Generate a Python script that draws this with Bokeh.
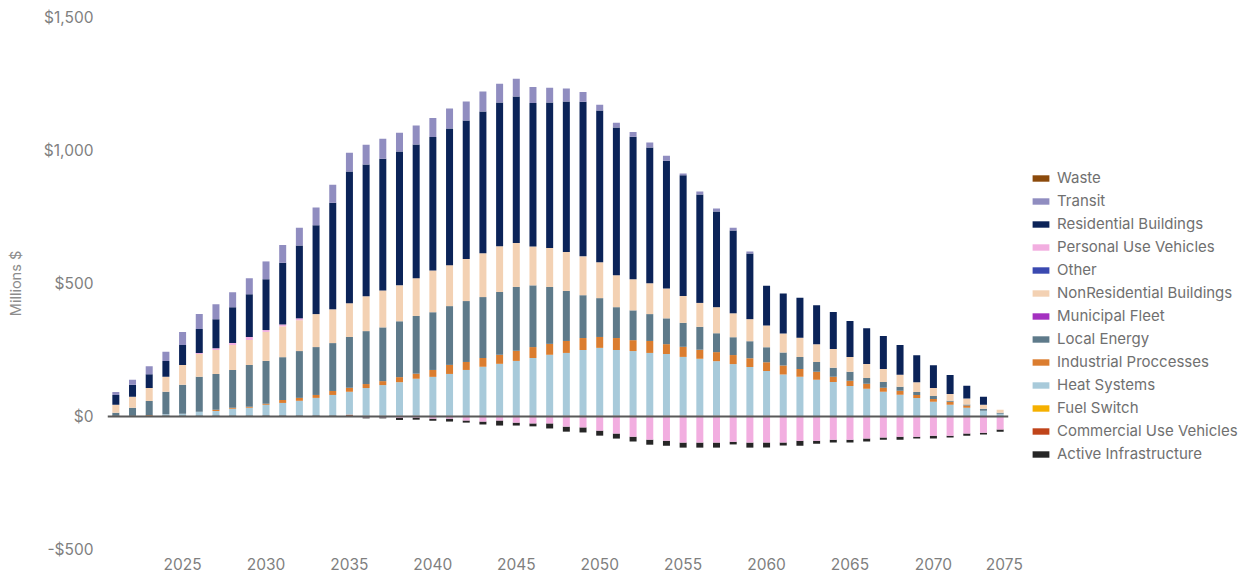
import numpy as np
from bokeh.plotting import figure
from bokeh.layouts import row
from bokeh.models import (ColumnDataSource, Range1d, Span, Legend, LegendItem,
                          FixedTicker, CustomJSTickFormatter)
from bokeh.embed import file_html
from bokeh.resources import INLINE

years = list(range(2021, 2075))

active = [4, 4, 4, 4, 4, 4, 4, 4, 4, 4, 4, 4, 4, 4, 4,
          -4, -4, -8, -8, -8, -11, -8, -11, -19, -11, -11, -19, -19, -19, -19,
          -19, -18, -19, -19, -19, -19, -19, -10, -19, -19, -11, -19, -11, -11, -11,
          -11, -8, -11, -7, -11, -7, -8, -7, -8]
commercial = [0] * 14 + [3] * 26 + [0] * 14
fuel_switch = [0] * 54
heat = [0, 0, 0, 4, 6, 14, 17, 25, 29, 40, 47, 55, 66, 77, 86,
        104, 115, 126, 139, 146, 157, 172, 184, 195, 206, 217, 229, 236, 247, 255,
        247, 243, 236, 232, 221, 214, 205, 194, 183, 168, 158, 149, 138, 130, 115,
        104, 93, 82, 70, 55, 44, 33, 22, 10]
industrial = [0, 0, 2, 0, 0, 0, 4, 4, 4, 4, 11, 11, 11, 15, 15,
              15, 15, 19, 19, 26, 34, 30, 33, 34, 38, 41, 41, 45, 45, 41,
              45, 41, 45, 37, 38, 34, 34, 34, 33, 33, 34, 30, 30, 19, 19,
              19, 15, 15, 11, 11, 11, 8, 0, 0]
local_energy = [10, 29, 52, 85, 109, 131, 135, 142, 157, 161, 161, 176, 180, 180, 191,
                199, 202, 210, 217, 217, 221, 229, 229, 236, 240, 232, 214, 188, 161, 146,
                116, 112, 101, 97, 90, 86, 71, 67, 64, 56, 49, 45, 37, 34, 34,
                22, 22, 15, 11, 11, 4, 4, 7, 4]
municipal = [0] * 54
nonres = [30, 41, 49, 56, 75, 86, 90, 94, 94, 109, 116, 116, 124, 127, 127,
          131, 139, 135, 142, 157, 154, 158, 165, 172, 165, 146, 146, 146, 146, 135,
          120, 117, 116, 112, 101, 90, 98, 90, 83, 82, 71, 72, 67, 71, 56,
          52, 49, 45, 37, 30, 26, 23, 15, 11]
other = [0] * 54
personal = [0, 0, 0, 0, 0, 4, 7, 7, 11, 7, 7, 7, 0, 0, 0,
            -3, -3, -5, -4, -8, -8, -15, -19, -15, -23, -26, -26, -38, -41, -53,
            -64, -76, -87, -91, -98, -98, -98, -95, -98, -98, -98, -91, -91, -87, -87,
            -83, -79, -76, -76, -72, -72, -64, -61, -49]
residential = [37, 45, 52, 60, 75, 90, 109, 135, 161, 191, 232, 274, 334, 401, 495,
               495, 495, 503, 503, 502, 514, 521, 533, 540, 551, 540, 547, 566, 581, 570,
               555, 536, 510, 480, 454, 408, 360, 311, 247, 150, 150, 150, 146, 139, 135,
               135, 124, 112, 101, 86, 71, 48, 30, 0]
transit = [11, 19, 30, 34, 49, 56, 56, 56, 60, 67, 67, 67, 67, 67, 71,
           75, 75, 71, 71, 71, 75, 71, 75, 71, 67, 60, 56, 49, 37, 22,
           18, 18, 19, 19, 7, 11, 11, 11, 7, 0, 0, 0, 0, 0, 0,
           0, 0, 0, 0, 0, 0, 0, 0, 0]
waste = [0] * 54

y_ticks = [-500, 0, 500, 1000, 1500]
x_ticks = [2025, 2030, 2035, 2040, 2045, 2050, 2055, 2060, 2065, 2070, 2074.25]

# series in stacking order (bottom to top for positive values)
series = [
    ("Active Infrastructure", active, "#262626"),
    ("Commercial Use Vehicles", commercial, "#C0441A"),
    ("Fuel Switch", fuel_switch, "#F5B000"),
    ("Heat Systems", heat, "#A8CADA"),
    ("Industrial Proccesses", industrial, "#DB7D2F"),
    ("Local Energy", local_energy, "#5E7A8A"),
    ("Municipal Fleet", municipal, "#A431C0"),
    ("NonResidential Buildings", nonres, "#F3D1B3"),
    ("Other", other, "#3A49B0"),
    ("Personal Use Vehicles", personal, "#F2AEE0"),
    ("Residential Buildings", residential, "#0B2358"),
    ("Transit", transit, "#908DC0"),
    ("Waste", waste, "#8B4A0B"),
]
# negative values stack downward, Personal Use Vehicles closest to zero
neg_order = ["Personal Use Vehicles", "Municipal Fleet", "Other", "Commercial Use Vehicles",
             "Fuel Switch", "Heat Systems", "Industrial Proccesses", "Local Energy",
             "NonResidential Buildings", "Residential Buildings", "Transit", "Waste",
             "Active Infrastructure"]

n = len(years)
pos_base = np.zeros(n)
bounds = {}
for name, vals, col in series:
    v = np.array(vals, dtype=float)
    pv = np.where(v > 0, v, 0.0)
    bounds[name] = [pos_base.copy(), pos_base + pv]
    pos_base = pos_base + pv
neg_base = np.zeros(n)
vals_by_name = {s[0]: np.array(s[1], dtype=float) for s in series}
for name in neg_order:
    v = vals_by_name[name]
    nv = np.where(v < 0, v, 0.0)
    b0, t0 = bounds[name]
    bot = np.where(v < 0, neg_base + nv, b0)
    top = np.where(v < 0, neg_base, t0)
    bounds[name] = [bot, top]
    neg_base = neg_base + nv

FONT = "Inter"
p = figure(width=1030, height=576, output_backend="svg", toolbar_location=None,
           x_range=Range1d(2020.5, 2074.5), y_range=Range1d(-500, 1500),
           min_border_left=107, min_border_right=22, min_border_top=17,
           min_border_bottom=27)
p.outline_line_color = None
p.xgrid.visible = False
p.ygrid.visible = False

for name, vals, col in series:
    b, t = bounds[name]
    src = ColumnDataSource(dict(x=years, bottom=b, top=t))
    p.vbar(x="x", bottom="bottom", top="top", width=0.42, source=src,
           fill_color=col, line_color=None)

p.add_layout(Span(location=0, dimension="width", line_color="#595959", line_width=2))

p.yaxis.ticker = FixedTicker(ticks=y_ticks)
p.yaxis.formatter = CustomJSTickFormatter(
    code="return (tick < 0 ? '-$' : '$') + Math.abs(tick).toLocaleString('en-US');")
p.xaxis.ticker = FixedTicker(ticks=x_ticks)
p.xaxis.formatter = CustomJSTickFormatter(
    code="return tick > 2073 ? '2075' : String(tick);")
for ax in (p.xaxis[0], p.yaxis[0]):
    ax.axis_line_color = None
    ax.major_tick_line_color = None
    ax.minor_tick_line_color = None
    ax.major_tick_out = 0
    ax.major_tick_in = 0
    ax.minor_tick_out = 0
    ax.minor_tick_in = 0
    ax.major_label_text_font = FONT
    ax.major_label_text_font_size = "15.5px"
    ax.major_label_text_color = "#7f7f7f"
p.yaxis.major_label_standoff = 14
p.xaxis.major_label_standoff = 8
p.yaxis.axis_label = "Millions $"
p.yaxis.axis_label_text_font = FONT
p.yaxis.axis_label_text_font_size = "14.5px"
p.yaxis.axis_label_text_font_style = "normal"
p.yaxis.axis_label_text_color = "#8c8c8c"
p.yaxis.axis_label_standoff = 17

# legend panel: a separate figure holding the legend swatches
pl = figure(width=212, height=576, output_backend="svg", toolbar_location=None,
            x_range=Range1d(0, 1), y_range=Range1d(0, 1),
            x_axis_type=None, y_axis_type=None,
            min_border_left=0, min_border_right=0, min_border_top=0, min_border_bottom=0)
pl.outline_line_color = None
pl.xgrid.visible = False
pl.ygrid.visible = False
items = []
for name, _, col in reversed(series):
    r = pl.vbar(x=[-10], bottom=[0], top=[0], width=0.5, fill_color=col, line_color=None)
    items.append(LegendItem(label=name, renderers=[r]))
legend = Legend(items=items, location=(0, 86), orientation="vertical",
                padding=0, margin=0, spacing=4, label_height=18, glyph_height=8,
                glyph_width=21, label_standoff=6, border_line_color=None,
                background_fill_alpha=0, label_text_font=FONT,
                label_text_font_size="15px", label_text_color="#707070")
pl.add_layout(legend, "center")

layout = row(p, pl)
open("out.html", "w").write(file_html(layout, INLINE))
